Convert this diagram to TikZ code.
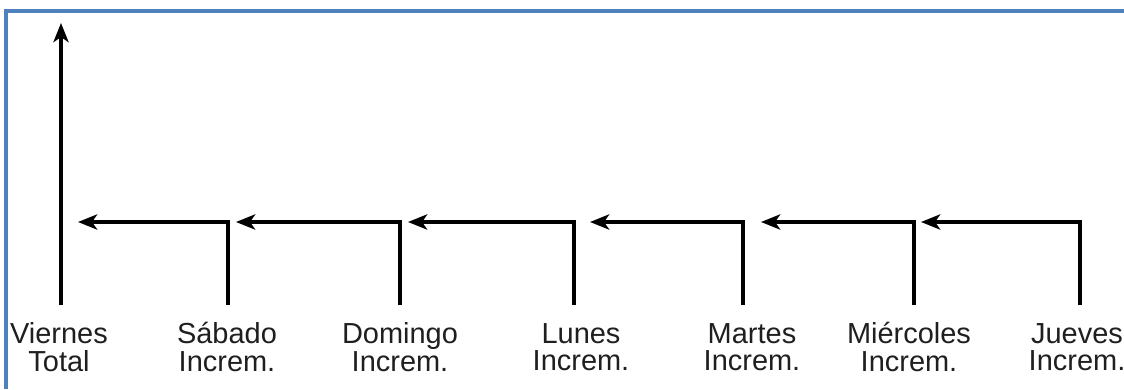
\documentclass[tikz,border=0pt]{standalone}
\usepackage{fontspec}
\setmainfont{Liberation Sans}
\usetikzlibrary{arrows.meta,positioning}
\definecolor{framblue}{RGB}{79,129,189}

\begin{document}
\begin{tikzpicture}[x=0.025cm, y=-0.025cm,
		day/.style={align=center, font=\fontsize{20.6}{19.4}\selectfont, text=black!88},
		link/.style={line width=2.4pt, -{Stealth[length=4.8mm, width=3.8mm, inset=1.3mm]}},
		fram/.style={line width=2.2pt, framblue}]
		\useasboundingbox (0,0) rectangle (1124,389);
		% frame (only top and left edges show)
		\draw [fram] (6,389) -- (6,11) -- (1124,11);
		% labels
		\node [day] (vie) at (59,347) {Viernes\\Total};
		\node [day] (sab) at (227,347) {Sábado\\Increm.};
		\node [day] (dom) at (400,347) {Domingo\\Increm.};
		\node [day] (lun) at (581,347) {Lunes\\Increm.};
		\node [day] (mar) at (752,347) {Martes\\Increm.};
		\node [day] (mie) at (909,347) {Miércoles\\Increm.};
		\node [day] (jue) at (1077,347) {Jueves\\Increm.};
		% line ends
		\coordinate (vieb) at (61,305);
		\coordinate (viet) at (61,23);
		\coordinate (sabb) at (228,305);
		\coordinate (domb) at (400,305);
		\coordinate (lunb) at (574,305);
		\coordinate (marb) at (743,305);
		\coordinate (mieb) at (914,305);
		\coordinate (jueb) at (1080,305);
		\coordinate (tip1) at (78,222);
		\coordinate (tip2) at (236,222);
		\coordinate (tip3) at (408,222);
		\coordinate (tip4) at (590,222);
		\coordinate (tip5) at (761,222);
		\coordinate (tip6) at (921,222);
		% arrows
		\draw [link] (vieb) -- (viet);
		\draw [link] (sabb) |- (tip1);
		\draw [link] (domb) |- (tip2);
		\draw [link] (lunb) |- (tip3);
		\draw [link] (marb) |- (tip4);
		\draw [link] (mieb) |- (tip5);
		\draw [link] (jueb) |- (tip6);
	\end{tikzpicture}
\end{document}
